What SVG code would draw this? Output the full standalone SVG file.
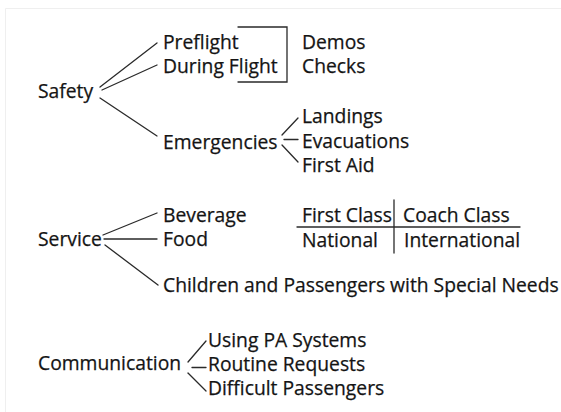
<svg xmlns="http://www.w3.org/2000/svg" width="561" height="412" viewBox="0 0 561 412">
  <style>
    text { font-family: "Open Sans", "Noto Sans", "Liberation Sans", sans-serif; font-size: 19.3px; fill: #141414; stroke: #141414; stroke-width: 0.25; }
    .ln { stroke: #2a2a2a; stroke-width: 1.3; fill: none; stroke-linecap: round; }
  </style>
  <rect x="0" y="0" width="561" height="412" fill="#ffffff"/>
  <path d="M5.5 412 V8.5 H561" fill="none" stroke="#efefef" stroke-width="1"/>

  <!-- Safety branch -->
  <g id="safety"><text x="38" y="98">Safety</text></g>
  <g id="preflight"><text x="163" y="49">Preflight</text></g>
  <g id="during-flight"><text x="163" y="73">During Flight</text></g>
  <g id="demos"><text x="302" y="49">Demos</text></g>
  <g id="checks"><text x="302" y="73">Checks</text></g>
  <g id="emergencies"><text x="163" y="149">Emergencies</text></g>
  <g id="landings"><text x="302" y="123">Landings</text></g>
  <g id="evacuations"><text x="302" y="148">Evacuations</text></g>
  <g id="first-aid"><text x="302" y="172">First Aid</text></g>

  <!-- Service branch -->
  <g id="service"><text x="38" y="246">Service</text></g>
  <g id="beverage"><text x="163" y="222">Beverage</text></g>
  <g id="food"><text x="163" y="246">Food</text></g>
  <g id="special-needs"><text x="163" y="292">Children and Passengers with Special Needs</text></g>
  <g id="class-table">
    <text x="302" y="222">First Class</text>
    <text x="403" y="222">Coach Class</text>
    <text x="302" y="247">National</text>
    <text x="404" y="247">International</text>
  </g>

  <!-- Communication branch -->
  <g id="communication"><text x="38" y="370">Communication</text></g>
  <g id="pa-systems"><text x="208" y="347">Using PA Systems</text></g>
  <g id="routine-requests"><text x="208" y="371">Routine Requests</text></g>
  <g id="difficult-passengers"><text x="208" y="395">Difficult Passengers</text></g>

  <g id="connectors" class="ln">
    <!-- Safety -->
    <path class="ln" d="M100 87 L157 43"/>
    <path class="ln" d="M102 90 L157 65"/>
    <path class="ln" d="M100 98 L157 136"/>
    <!-- Preflight / During Flight bracket -->
    <path class="ln" d="M238 27 H287 V82 H238"/>
    <!-- Emergencies -->
    <path class="ln" d="M282 135 L298 118"/>
    <path class="ln" d="M284 139.5 H298"/>
    <path class="ln" d="M282 145 L298 162"/>
    <!-- Service -->
    <path class="ln" d="M103 235 L157 213"/>
    <path class="ln" d="M104 239 H157"/>
    <path class="ln" d="M105 245 L158 285"/>
    <!-- class table rules -->
    <path class="ln" d="M297 227 H520"/>
    <path class="ln" d="M394 200 V253"/>
    <!-- Communication -->
    <path class="ln" d="M188 362 L206 341"/>
    <path class="ln" d="M192 367.5 H206"/>
    <path class="ln" d="M188 373 L206 391"/>
  </g>
</svg>
